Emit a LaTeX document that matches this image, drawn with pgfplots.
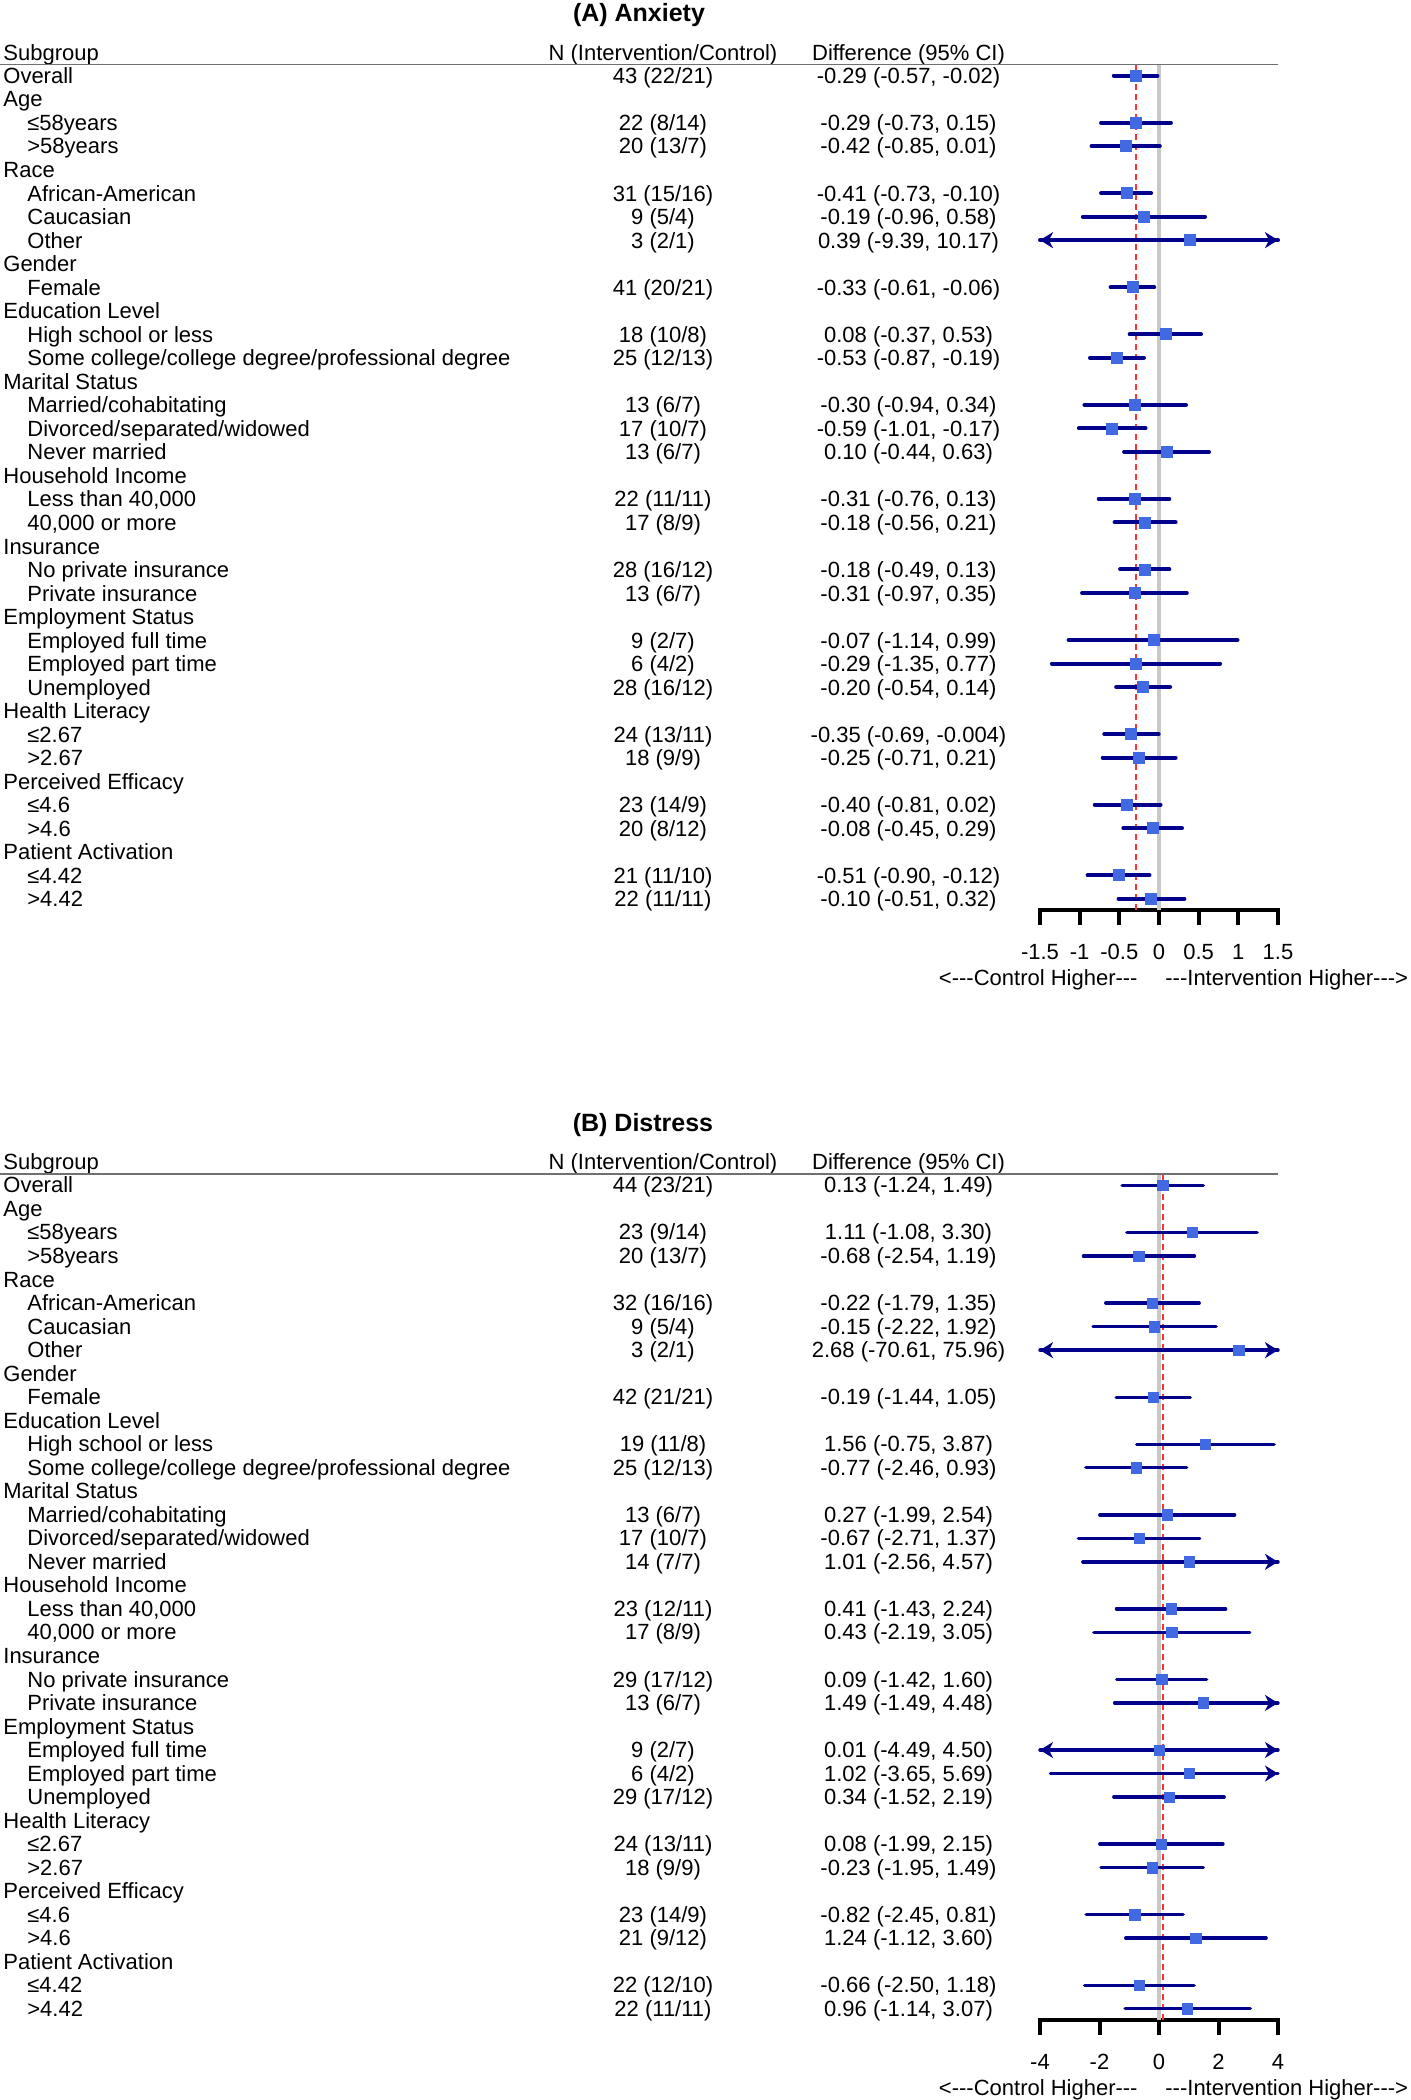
\documentclass[border=0pt]{standalone}
\usepackage{pgfplots}
\pgfplotsset{compat=1.18}
\usepackage{pgfplotstable}
\usepackage{fontspec}
\setmainfont{Liberation Sans}
\usetikzlibrary{arrows.meta}
\definecolor{ciblue}{HTML}{00008B}
\definecolor{sqblue}{HTML}{4169E1}
\definecolor{refred}{HTML}{FF3333}
\definecolor{zerogray}{HTML}{C8C8C8}
\definecolor{rulegray}{HTML}{707070}

\pgfplotstableread{
r est lo hi
1 -0.29 -0.57 -0.02
3 -0.29 -0.73 0.15
4 -0.42 -0.85 0.01
6 -0.41 -0.73 -0.10
7 -0.19 -0.96 0.58
8 0.39 -9.39 10.17
10 -0.33 -0.61 -0.06
12 0.08 -0.37 0.53
13 -0.53 -0.87 -0.19
15 -0.30 -0.94 0.34
16 -0.59 -1.01 -0.17
17 0.10 -0.44 0.63
19 -0.31 -0.76 0.13
20 -0.18 -0.56 0.21
22 -0.18 -0.49 0.13
23 -0.31 -0.97 0.35
25 -0.07 -1.14 0.99
26 -0.29 -1.35 0.77
27 -0.20 -0.54 0.14
29 -0.35 -0.69 -0.004
30 -0.25 -0.71 0.21
32 -0.40 -0.81 0.02
33 -0.08 -0.45 0.29
35 -0.51 -0.90 -0.12
36 -0.10 -0.51 0.32
}\dataA

\pgfplotstableread{
r est lo hi
1 0.13 -1.24 1.49
3 1.11 -1.08 3.30
4 -0.68 -2.54 1.19
6 -0.22 -1.79 1.35
7 -0.15 -2.22 1.92
8 2.68 -70.61 75.96
10 -0.19 -1.44 1.05
12 1.56 -0.75 3.87
13 -0.77 -2.46 0.93
15 0.27 -1.99 2.54
16 -0.67 -2.71 1.37
17 1.01 -2.56 4.57
19 0.41 -1.43 2.24
20 0.43 -2.19 3.05
22 0.09 -1.42 1.60
23 1.49 -1.49 4.48
25 0.01 -4.49 4.50
26 1.02 -3.65 5.69
27 0.34 -1.52 2.19
29 0.08 -1.99 2.15
30 -0.23 -1.95 1.49
32 -0.82 -2.45 0.81
33 1.24 -1.12 3.60
35 -0.66 -2.50 1.18
36 0.96 -1.14 3.07
}\dataB

% truncated CI ends: start x and direction u (tip lands on the axis limit)
\pgfplotstableread{
r x u
8 -1.2 -0.3
8 1.2 0.3
}\arrowsA

\pgfplotstableread{
r x u
8 -3.2 -0.8
8 3.2 0.8
17 3.2 0.8
23 3.2 0.8
25 -3.2 -0.8
25 3.2 0.8
26 3.2 0.8
}\arrowsB

\newcommand{\bodyfont}{\fontsize{11}{13}\selectfont}

\pgfplotsset{forest/.style={
  scale only axis, width=119pt, height=423pt,
  ymin=-36.48, ymax=-0.511,
  axis x line*=bottom, axis y line=none, ytick=\empty,
  clip=false,
  axis line style={line width=2pt, black, line cap=rect},
  xtick style={line width=2pt, black},
  major tick length=7.5pt, tick align=outside,
  tick label style={font=\bodyfont},
  xticklabel style={yshift=-6pt},
  anchor=south west,
}}

% row labels (first column)
\newcommand{\grp}[3]{\node[anchor=base west] at (3,{#1+(#2-1)*23.53+7.9}) {#3};}
\newcommand{\itm}[3]{\node[anchor=base west] at (27,{#1+(#2-1)*23.53+7.9}) {#3};}
\newcommand{\vals}[4]{%
  \node[anchor=base] at (663,{#1+(#2-1)*23.53+7.9}) {#3};
  \node[anchor=base] at (908.5,{#1+(#2-1)*23.53+7.9}) {#4};}
\newcommand{\labels}[1]{%
  \grp{#1}{1}{Overall}
  \grp{#1}{2}{Age}
  \itm{#1}{3}{≤58years}
  \itm{#1}{4}{>58years}
  \grp{#1}{5}{Race}
  \itm{#1}{6}{African-American}
  \itm{#1}{7}{Caucasian}
  \itm{#1}{8}{Other}
  \grp{#1}{9}{Gender}
  \itm{#1}{10}{Female}
  \grp{#1}{11}{Education Level}
  \itm{#1}{12}{High school or less}
  \itm{#1}{13}{Some college/college degree/professional degree}
  \grp{#1}{14}{Marital Status}
  \itm{#1}{15}{Married/cohabitating}
  \itm{#1}{16}{Divorced/separated/widowed}
  \itm{#1}{17}{Never married}
  \grp{#1}{18}{Household Income}
  \itm{#1}{19}{Less than 40,000}
  \itm{#1}{20}{40,000 or more}
  \grp{#1}{21}{Insurance}
  \itm{#1}{22}{No private insurance}
  \itm{#1}{23}{Private insurance}
  \grp{#1}{24}{Employment Status}
  \itm{#1}{25}{Employed full time}
  \itm{#1}{26}{Employed part time}
  \itm{#1}{27}{Unemployed}
  \grp{#1}{28}{Health Literacy}
  \itm{#1}{29}{≤2.67}
  \itm{#1}{30}{>2.67}
  \grp{#1}{31}{Perceived Efficacy}
  \itm{#1}{32}{≤4.6}
  \itm{#1}{33}{>4.6}
  \grp{#1}{34}{Patient Activation}
  \itm{#1}{35}{≤4.42}
  \itm{#1}{36}{>4.42}
}
\newcommand{\header}[1]{%
  \node[anchor=base west] at (3,{#1}) {Subgroup};
  \node[anchor=base] at (663,{#1}) {N (Intervention/Control)};
  \node[anchor=base] at (908.5,{#1}) {Difference (95\% CI)};
  \draw[rulegray, line width=0.75pt] (0,{#1+4.3}) -- (1278,{#1+4.3});
}

\begin{document}
\begin{tikzpicture}
\useasboundingbox (0,0) rectangle (705.5pt,-1050pt);

% ---------------- Panel A ----------------
\begin{axis}[forest, at={(520pt,-455pt)},
  xmin=-1.5, xmax=1.5,
  xtick={-1.5,-1,-0.5,0,0.5,1,1.5},
  xticklabels={-1.5,-1,-0.5,0,0.5,1,1.5}]
\addplot[zerogray, line width=1.75pt] coordinates {(0,-0.511) (0,-36.48)};
\addplot[refred, line width=0.75pt, dash pattern=on 3pt off 2pt] coordinates {(-0.29,-0.511) (-0.29,-36.48)};
\addplot[only marks, mark=square*, mark size=2.75pt,
  mark options={fill=sqblue, draw=sqblue, line width=0.3pt},
  error bars/.cd, x dir=both, x explicit, error mark=none,
  error bar style={line width=2pt, ciblue, line cap=round}]
  table[x=est, y expr=-\thisrow{r},
    x error plus expr={min(\thisrow{hi},1.5)-\thisrow{est}},
    x error minus expr={\thisrow{est}-max(\thisrow{lo},-1.5)}] {\dataA};
\addplot[ciblue, line width=2pt, -{Stealth[length=6.5pt,width=8pt,inset=2pt]},
  quiver={u=\thisrow{u}, v=0}]
  table[x=x, y expr=-\thisrow{r}] {\arrowsA};
\end{axis}

% ---------------- Panel B ----------------
\begin{axis}[forest, at={(520pt,-1010pt)},
  xmin=-4, xmax=4,
  xtick={-4,-2,0,2,4},
  xticklabels={-4,-2,0,2,4}]
\addplot[zerogray, line width=1.75pt] coordinates {(0,-0.511) (0,-36.48)};
\addplot[refred, line width=0.75pt, dash pattern=on 3pt off 2pt] coordinates {(0.13,-0.511) (0.13,-36.48)};
\addplot[only marks, mark=square*, mark size=2.6pt,
  mark options={fill=sqblue, draw=sqblue, line width=0.3pt},
  error bars/.cd, x dir=both, x explicit, error mark=none,
  error bar style={line width=1.7pt, ciblue, line cap=round}]
  table[x=est, y expr=-\thisrow{r},
    x error plus expr={min(\thisrow{hi},4)-\thisrow{est}},
    x error minus expr={\thisrow{est}-max(\thisrow{lo},-4)}] {\dataB};
\addplot[ciblue, line width=1.7pt, -{Stealth[length=6.5pt,width=8pt,inset=2pt]},
  quiver={u=\thisrow{u}, v=0}]
  table[x=x, y expr=-\thisrow{r}] {\arrowsB};
\end{axis}

\begin{scope}[x=0.5pt, y=-0.5pt, every node/.style={font=\bodyfont, inner sep=0pt}]
  % Panel A text
  \node[anchor=base, font=\bfseries\fontsize{12.5}{15}\selectfont] at (639,21.5) {(A) Anxiety};
  \header{60.2}
  \labels{75.5}
  \vals{75.5}{1}{43 (22/21)}{-0.29 (-0.57, -0.02)}
  \vals{75.5}{3}{22 (8/14)}{-0.29 (-0.73, 0.15)}
  \vals{75.5}{4}{20 (13/7)}{-0.42 (-0.85, 0.01)}
  \vals{75.5}{6}{31 (15/16)}{-0.41 (-0.73, -0.10)}
  \vals{75.5}{7}{9 (5/4)}{-0.19 (-0.96, 0.58)}
  \vals{75.5}{8}{3 (2/1)}{0.39 (-9.39, 10.17)}
  \vals{75.5}{10}{41 (20/21)}{-0.33 (-0.61, -0.06)}
  \vals{75.5}{12}{18 (10/8)}{0.08 (-0.37, 0.53)}
  \vals{75.5}{13}{25 (12/13)}{-0.53 (-0.87, -0.19)}
  \vals{75.5}{15}{13 (6/7)}{-0.30 (-0.94, 0.34)}
  \vals{75.5}{16}{17 (10/7)}{-0.59 (-1.01, -0.17)}
  \vals{75.5}{17}{13 (6/7)}{0.10 (-0.44, 0.63)}
  \vals{75.5}{19}{22 (11/11)}{-0.31 (-0.76, 0.13)}
  \vals{75.5}{20}{17 (8/9)}{-0.18 (-0.56, 0.21)}
  \vals{75.5}{22}{28 (16/12)}{-0.18 (-0.49, 0.13)}
  \vals{75.5}{23}{13 (6/7)}{-0.31 (-0.97, 0.35)}
  \vals{75.5}{25}{9 (2/7)}{-0.07 (-1.14, 0.99)}
  \vals{75.5}{26}{6 (4/2)}{-0.29 (-1.35, 0.77)}
  \vals{75.5}{27}{28 (16/12)}{-0.20 (-0.54, 0.14)}
  \vals{75.5}{29}{24 (13/11)}{-0.35 (-0.69, -0.004)}
  \vals{75.5}{30}{18 (9/9)}{-0.25 (-0.71, 0.21)}
  \vals{75.5}{32}{23 (14/9)}{-0.40 (-0.81, 0.02)}
  \vals{75.5}{33}{20 (8/12)}{-0.08 (-0.45, 0.29)}
  \vals{75.5}{35}{21 (11/10)}{-0.51 (-0.90, -0.12)}
  \vals{75.5}{36}{22 (11/11)}{-0.10 (-0.51, 0.32)}
  \node[anchor=base east] at (1138,985) {<-{}-{}-Control Higher-{}-{}-};
  \node[anchor=base west] at (1165,985) {-{}-{}-Intervention Higher-{}-{}->};

  % Panel B text
  \node[anchor=base, font=\bfseries\fontsize{12.5}{15}\selectfont] at (643,1131.5) {(B) Distress};
  \header{1169.7}
  \labels{1185}
  \vals{1185}{1}{44 (23/21)}{0.13 (-1.24, 1.49)}
  \vals{1185}{3}{23 (9/14)}{1.11 (-1.08, 3.30)}
  \vals{1185}{4}{20 (13/7)}{-0.68 (-2.54, 1.19)}
  \vals{1185}{6}{32 (16/16)}{-0.22 (-1.79, 1.35)}
  \vals{1185}{7}{9 (5/4)}{-0.15 (-2.22, 1.92)}
  \vals{1185}{8}{3 (2/1)}{2.68 (-70.61, 75.96)}
  \vals{1185}{10}{42 (21/21)}{-0.19 (-1.44, 1.05)}
  \vals{1185}{12}{19 (11/8)}{1.56 (-0.75, 3.87)}
  \vals{1185}{13}{25 (12/13)}{-0.77 (-2.46, 0.93)}
  \vals{1185}{15}{13 (6/7)}{0.27 (-1.99, 2.54)}
  \vals{1185}{16}{17 (10/7)}{-0.67 (-2.71, 1.37)}
  \vals{1185}{17}{14 (7/7)}{1.01 (-2.56, 4.57)}
  \vals{1185}{19}{23 (12/11)}{0.41 (-1.43, 2.24)}
  \vals{1185}{20}{17 (8/9)}{0.43 (-2.19, 3.05)}
  \vals{1185}{22}{29 (17/12)}{0.09 (-1.42, 1.60)}
  \vals{1185}{23}{13 (6/7)}{1.49 (-1.49, 4.48)}
  \vals{1185}{25}{9 (2/7)}{0.01 (-4.49, 4.50)}
  \vals{1185}{26}{6 (4/2)}{1.02 (-3.65, 5.69)}
  \vals{1185}{27}{29 (17/12)}{0.34 (-1.52, 2.19)}
  \vals{1185}{29}{24 (13/11)}{0.08 (-1.99, 2.15)}
  \vals{1185}{30}{18 (9/9)}{-0.23 (-1.95, 1.49)}
  \vals{1185}{32}{23 (14/9)}{-0.82 (-2.45, 0.81)}
  \vals{1185}{33}{21 (9/12)}{1.24 (-1.12, 3.60)}
  \vals{1185}{35}{22 (12/10)}{-0.66 (-2.50, 1.18)}
  \vals{1185}{36}{22 (11/11)}{0.96 (-1.14, 3.07)}
  \node[anchor=base east] at (1138,2095) {<-{}-{}-Control Higher-{}-{}-};
  \node[anchor=base west] at (1165,2095) {-{}-{}-Intervention Higher-{}-{}->};
\end{scope}
\end{tikzpicture}
\end{document}
